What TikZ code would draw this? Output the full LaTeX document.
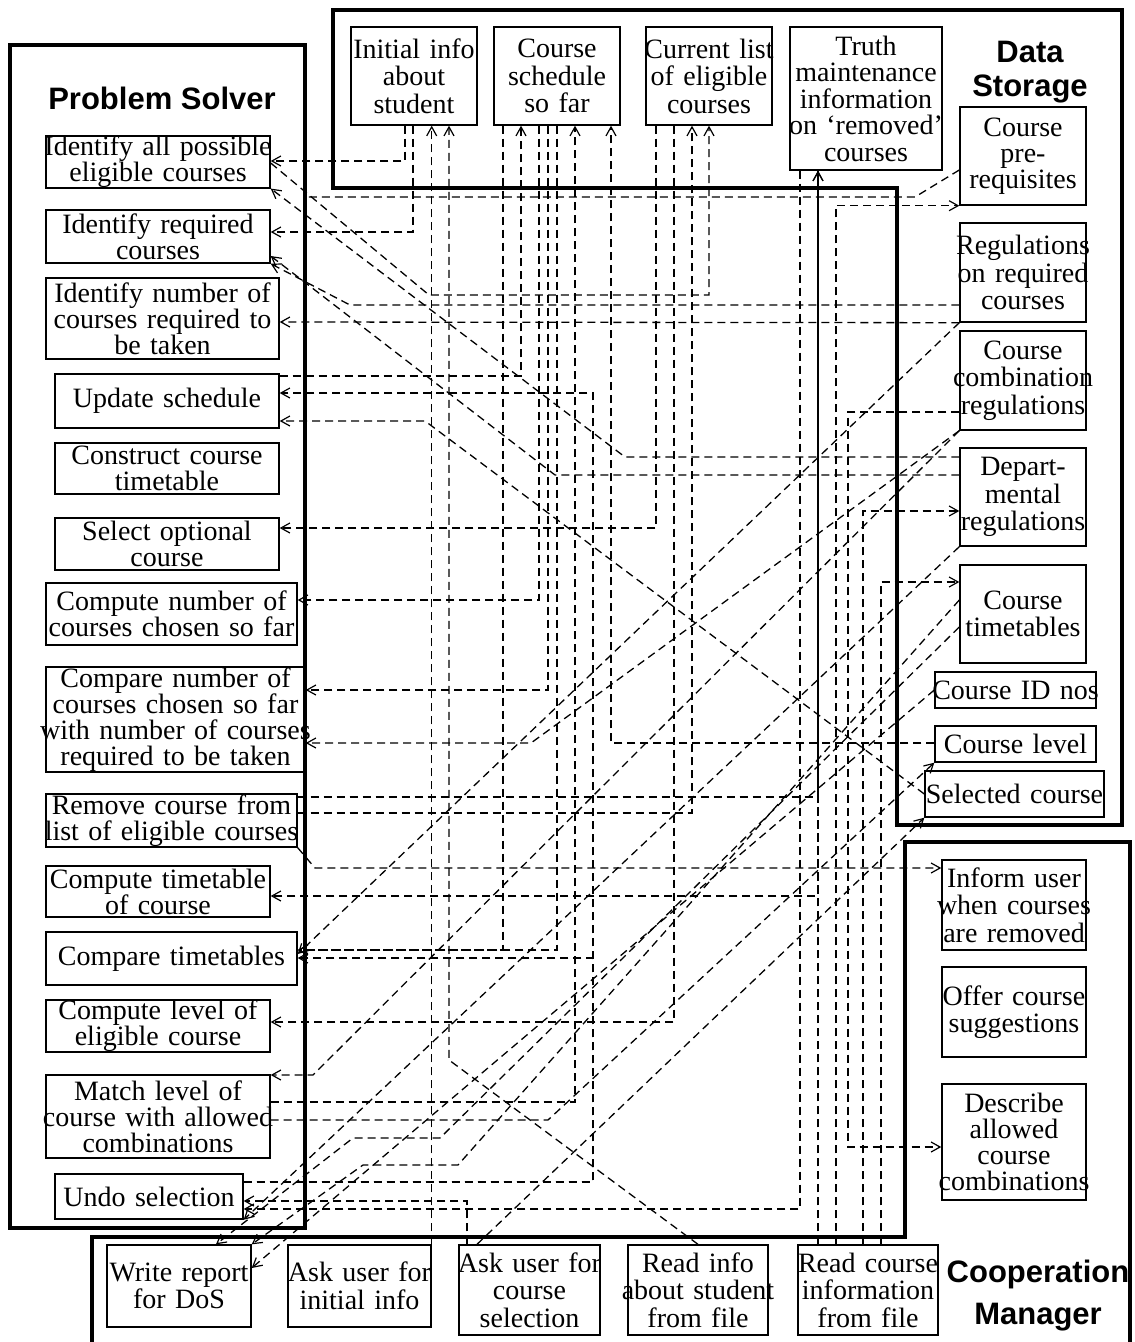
\documentclass[tikz,border=0pt]{standalone}
\usepackage{fontspec}
\setmainfont{Liberation Serif}
\newfontfamily\headfont{Liberation Sans}
\usetikzlibrary{arrows.meta}

\tikzset{every picture/.style={line width=0.75pt}}
\tikzset{
  box/.style 2 args={draw, line width=1.4pt, inner xsep=-10pt, inner ysep=0pt, align=center, text width=#1pt, minimum height=#2pt, font={\fontsize{28}{27.5}\selectfont\lineskiplimit=-30pt}},
  lbox/.style 2 args={box={#1}{#2}, font={\fontsize{28}{26}\selectfont\lineskiplimit=-30pt}},
  module/.style={line width=3.5pt, line join=miter},
  title/.style={font=\headfont\bfseries\fontsize{31}{34}\selectfont, align=center, inner sep=0pt},
  flow/.style={dash pattern=on 8pt off 5pt, line width=1.3pt},
  arr/.style={flow, -{Straight Barb[length=9pt, width=10pt, line width=1.2pt]}},
}

\begin{document}
\begin{tikzpicture}[x=1pt,y=1pt,yscale=-1,xscale=1]
\useasboundingbox (0,0) rectangle (1135,1342);

%Shape: Modules
\draw[module] (10,45) rectangle (305,1228);
\draw[module] (333,10) -- (1122,10) -- (1122,825) -- (897,825) -- (897,188) -- (333,188) -- cycle;
\draw[module] (92,1350) -- (92,1237) -- (905,1237) -- (905,842) -- (1130,842) -- (1130,1350);
\coordinate (psedge) at (305,197);

% Text Node
\node[title] (pstitle) at (162,98) {Problem Solver};
\node[title] (dstitle) at (1030,72) {Data\\Storage};
\node[title, font=\headfont\bfseries\fontsize{31}{42}\selectfont] (cmtitle) at (1038,1296) {Cooperation\\Manager};

%Shape: Problem Solver tasks
\node[lbox={244}{50}] (idall) at (158,162) {Identify all possible\\eligible courses};
\node[lbox={244}{53}] (idreq) at (158,236.5) {Identify required\\courses};
\node[lbox={253}{81}] (idnum) at (162.5,318.5) {Identify number of\\courses required to\\be taken};
\node[lbox={244}{54}] (updsched) at (167,401) {Update schedule};
\node[lbox={244}{51}] (constr) at (167,468.5) {Construct course\\timetable};
\node[lbox={244}{52}] (selopt) at (167,544) {Select optional\\course};
\node[lbox={271}{62}] (compnum) at (171.5,614) {Compute number of\\courses chosen so far};
\node[lbox={279}{105}] (cmpnum) at (175.5,719.5) {Compare number of\\courses chosen so far\\with number of courses\\required to be taken};
\node[lbox={271}{53}] (remove) at (171.5,820.5) {Remove course from\\list of eligible courses};
\node[lbox={244}{51}] (comptt) at (158,891.5) {Compute timetable\\of course};
\node[lbox={271}{53}] (cmptt) at (171.5,958.5) {Compare timetables};
\node[lbox={244}{52}] (complev) at (158,1026) {Compute level of\\eligible course};
\node[lbox={244}{83}] (matchlev) at (158,1116.5) {Match level of\\course with allowed\\combinations};
\node[lbox={208}{45}] (undo) at (149,1196.5) {Undo selection};

%Shape: Data Storage items
\node[box={146}{98}] (initinfo) at (414,76) {Initial info\\about\\student};
\node[box={146}{98}] (sched) at (557,76) {Course\\schedule\\so far};
\node[box={146}{98}] (curlist) at (709,76) {Current list\\of eligible\\courses};
\node[box={172}{143}, font={\fontsize{28}{26.5}\selectfont\lineskiplimit=-30pt}] (truth) at (866,98.5) {Truth\\maintenance\\information\\on ‘removed’\\courses};
\node[box={146}{98}, font={\fontsize{28}{26}\selectfont\lineskiplimit=-30pt}] (prereq) at (1023,156) {Course\\pre-\\requisites};
\node[box={146}{99}] (regreq) at (1023,272.5) {Regulations\\on required\\courses};
\node[box={146}{99}] (combreg) at (1023,380.5) {Course\\combination\\regulations};
\node[box={146}{98}] (deptreg) at (1023,497) {Depart-\\mental\\regulations};
\node[box={146}{98}] (coursett) at (1023,614) {Course\\timetables};
\node[box={181}{36}] (courseid) at (1015.5,690) {Course ID nos};
\node[box={181}{36}] (courselev) at (1015.5,744) {Course level};
\node[box={199}{46}] (selcourse) at (1014.5,794) {Selected course};

%Shape: Cooperation Manager items
\node[box={164}{90}] (inform) at (1014,905) {Inform user\\when courses\\are removed};
\node[box={164}{90}] (offer) at (1014,1012) {Offer course\\suggestions};
\node[box={164}{116}, font={\fontsize{28}{26}\selectfont\lineskiplimit=-30pt}] (describe) at (1014,1142) {Describe\\allowed\\course\\combinations};
\node[box={164}{82}] (report) at (179,1286) {Write report\\for DoS};
\node[box={163}{82}] (askinit) at (359.5,1286) {Ask user for\\initial info};
\node[box={161}{90}] (asksel) at (529.5,1290) {Ask user for\\course\\selection};
\node[box={160}{90}] (readstu) at (698,1290) {Read info\\about student\\from file};
\node[box={160}{90}] (readcrs) at (868,1290) {Read course\\information\\from file};

%Straight Lines: from the top row of stores
\draw[arr] (initinfo.south -| 405,0) |- (idall.east |- 0,161);
\draw[arr] (initinfo.south -| 413,0) |- (idreq.east |- 0,232);
\draw[arr] (askinit.north east) -- (initinfo.south -| askinit.north east);
\draw[arr] (readstu.north) -- (449,1060) -- (initinfo.south -| 449,0);
\draw[arr] (sched.south -| 503,0) |- (cmptt.east |- 0,950);
\draw[arr] (updsched.east |- 0,376) -| (sched.south -| 521,0);
\draw[arr] (sched.south -| 539,0) |- (compnum.east |- 0,600);
\draw[arr] (sched.south -| 548,0) |- (cmpnum.east |- 0,690);
\draw[arr] (sched.south -| 557,0) |- (cmptt.east |- 0,950);
\draw[arr] (matchlev.east |- 0,1102) -| (sched.south -| 575,0);
\draw[arr] (undo.east |- 0,1182) -| (593,393) -- (updsched.east |- 0,393);
\draw[arr] (undo.east |- 0,1182) -| (593,958) -- (cmptt.east |- 0,958);
\draw[arr] (courselev.west |- 0,743) -| (sched.south -| 611,0);
\draw[arr] (curlist.south -| 656,0) |- (selopt.east |- 0,528);
\draw[arr] (curlist.south -| 674,0) |- (complev.east |- 0,1022);
\draw[arr] (remove.east |- 0,813) -| (curlist.south -| 692,0);
\draw[arr] (idall.east |- 0,163) -- (429,295) -| (curlist.south -| 709,0);
\draw[arr] (truth.south -| 800,0) |- (undo.east |- 0,1209);
\draw[arr] (readcrs.north -| 818,0) -- (truth.south -| 818,0);
\draw[arr] (remove.east |- 0,797) -| (truth.south -| 818,0);
\draw[arr] (truth.south -| 818,0) |- (comptt.east |- 0,896);

%Straight Lines: from the right column of stores
\draw[flow] (prereq.west |- 0,170) -- (915,197) -- (psedge);
\draw[arr] (regreq.west |- 0,305) -- (350,305) -- (idreq.south east);
\draw[arr] (regreq.south west) -- (idnum.east |- 0,322);
\draw[arr] (regreq.south west) -- (cmptt.east |- 0,954);
\draw[arr] (combreg.south west) -- (531,743) -- (cmpnum.east |- 0,743);
\draw[arr] (combreg.south west) -- (313,1075) -- (matchlev.east |- 0,1075);
\draw[arr] (combreg.west |- 0,412) -| (848,1147) -- (describe.west |- 0,1147);
\draw[arr] (deptreg.west |- 0,457) -- (625,457) -- (idall.south east);
\draw[arr] (deptreg.west |- 0,475) -- (555,475) -- (idreq.east |- 0,256);
\draw[arr] (deptreg.south west) -- (undo.south east);
\draw[arr] (coursett.west |- 0,600) -- (458,1165) -- (363,1165) -- (report.north east);
\draw[arr] (coursett.west |- 0,627) -- (440,1138) -- (353,1138) -- (report.north -| 216,0);
\draw[arr] (courseid.west) -- (report.east |- 0,1268);
\draw[arr] (selcourse.west) -- (425,421) -- (updsched.east |- 0,421);

%Straight Lines: from the user and file tasks
\draw[arr] (readcrs.north -| 836,0) |- (prereq.south west);
\draw[arr] (readcrs.north -| 863,0) |- (deptreg.west |- 0,511);
\draw[arr] (readcrs.north -| 881,0) |- (coursett.west |- 0,582);
\draw[arr] (asksel.north -| 477,0) -- (selcourse.south west);
\draw[arr] (asksel.north -| 467,0) |- (undo.east |- 0,1201);
\draw[arr] (matchlev.east |- 0,1120) -- (548,1120) -- (courselev.south west);
\draw[arr] (remove.south east) -- (315,868) -- (inform.west |- 0,868);

\end{tikzpicture}
\end{document}
